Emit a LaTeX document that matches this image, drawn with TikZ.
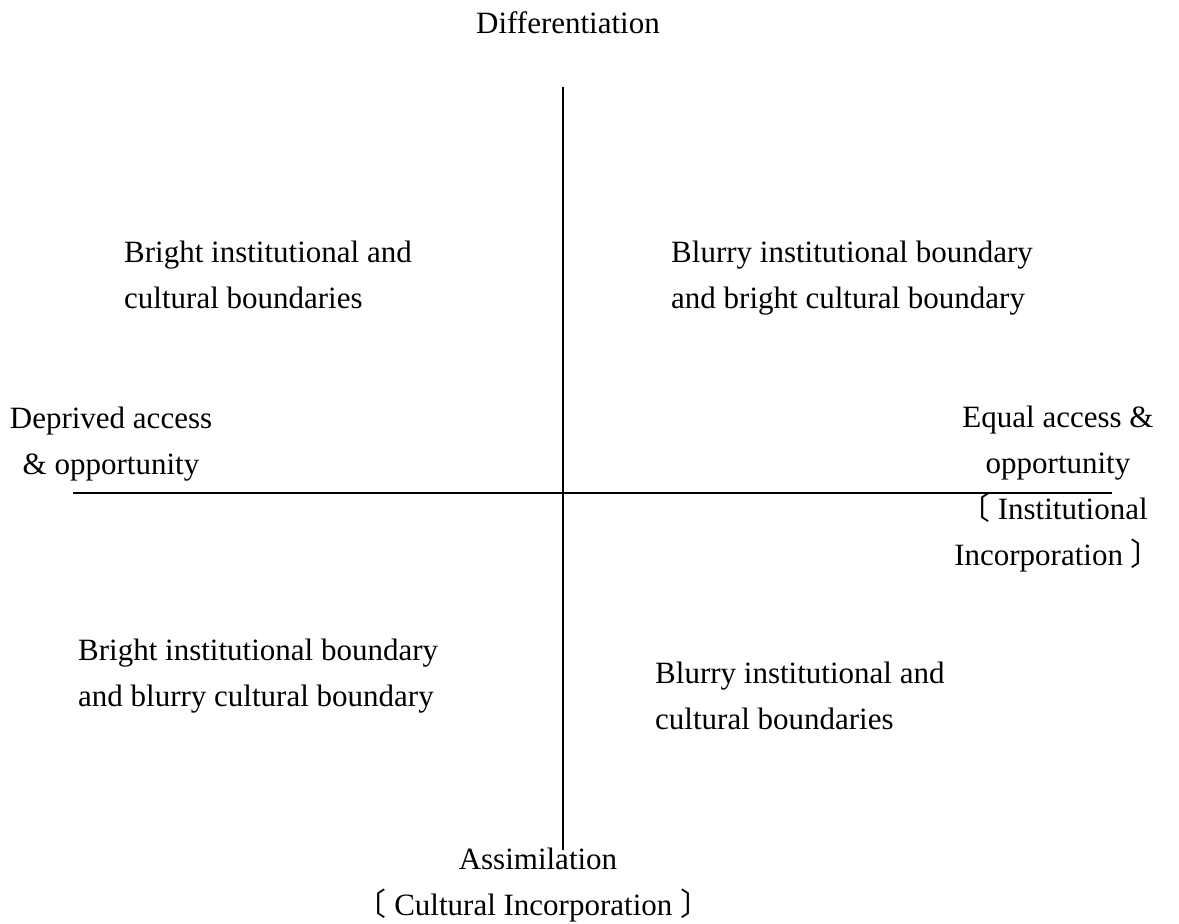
\documentclass[tikz,border=0pt]{standalone}
\usepackage{fontspec}
\setmainfont{Liberation Serif}
\newfontfamily\cjk{Noto Sans CJK SC}
% full-width tortoise-shell brackets, with a little air next to the words
\newcommand{\lbr}{\hspace{-0.3em}{\cjk 〔}\hspace{0.25em}}
\newcommand{\rbr}{\hspace{0.25em}{\cjk 〕}\hspace{-0.3em}}
\begin{document}
\begin{tikzpicture}[x=1pt,y=-1pt,
  lbl/.style={inner sep=0pt, font=\fontsize{31}{46}\selectfont},
  axis/.style={line width=1.6pt, black}]
\useasboundingbox (0,0) rectangle (1179,924);

% axes
\coordinate (top) at (563,87);
\coordinate (bot) at (563,850);
\coordinate (lft) at (73,493);
\coordinate (rgt) at (1112,493);
\draw[axis] (top) -- (bot);
\draw[axis] (lft) -- (rgt);

% axis labels (base anchor = baseline of the last line)
\node[lbl, anchor=base] (diff) at (568,33) {Differentiation};
\node[lbl, anchor=base, align=center] (depr) at (111,474) {Deprived access\\ \& opportunity};
\node[lbl, anchor=base, align=center] (equal) at (1058,565)
  {Equal access \&\\opportunity\\\lbr Institutional\\Incorporation\rbr};
\node[lbl, anchor=base, align=center] (assim) at (538,915)
  {Assimilation\\\lbr Cultural Incorporation\rbr};

% quadrant labels
\node[lbl, anchor=base west, align=left] (q2) at (124,308)
  {Bright institutional and\\cultural boundaries};
\node[lbl, anchor=base west, align=left] (q1) at (671,308)
  {Blurry institutional boundary\\and bright cultural boundary};
\node[lbl, anchor=base west, align=left] (q3) at (78,706)
  {Bright institutional boundary\\and blurry cultural boundary};
\node[lbl, anchor=base west, align=left] (q4) at (655,729)
  {Blurry institutional and\\cultural boundaries};
\end{tikzpicture}
\end{document}
